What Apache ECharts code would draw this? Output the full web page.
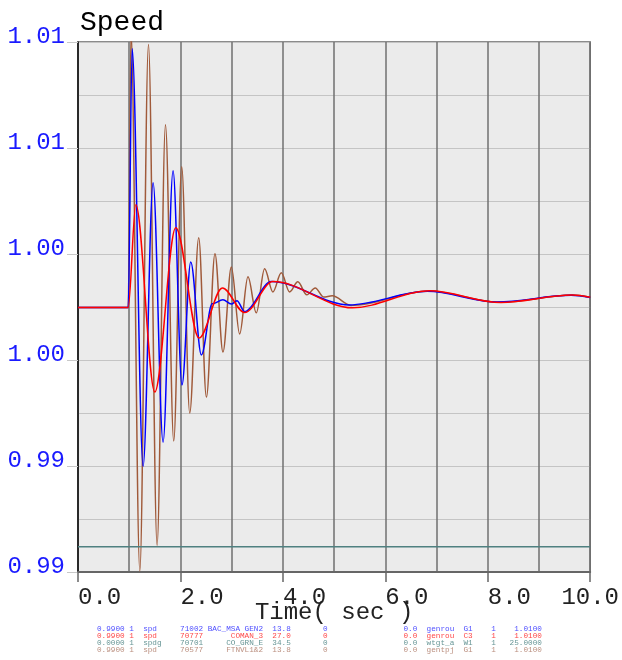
<!DOCTYPE html>
<html>
<head>
<meta charset="utf-8">
<script src="https://cdn.jsdelivr.net/npm/echarts@6/dist/echarts.min.js"></script>
<style>
  html, body { margin: 0; padding: 0; background: #ffffff; }
  #chart { width: 622px; height: 660px; }
</style>
</head>
<body>
<div id="chart"></div>
<script>
// Rotor speed (pu) after the disturbance, sampled at the turning points of each trace.
const timeTicks = [0, 2, 4, 6, 8, 10];

const speedGen2 = [
  [0, 0.99998], [0.98, 0.99998], [1.057, 1.00975], [1.271, 0.99399], [1.466, 1.00469],
  [1.661, 0.99490], [1.856, 1.00514], [2.03, 0.99706], [2.201, 1.00170], [2.409, 0.99819],
  [2.62, 1.00012], [2.83, 1.00027], [2.994, 1.00011], [3.103, 1.00024], [3.253, 0.99983],
  [3.774, 1.00096], [5.30, 1.00008], [6.82, 1.00059], [8.18, 1.00019], [9.63, 1.00044],
  [10, 1.00036]
];

const speedComan3 = [
  [0, 0.99998], [0.979, 0.99998], [1.129, 1.00386], [1.499, 0.99679], [1.908, 1.00299],
  [2.363, 0.99883], [2.819, 1.00072], [3.253, 0.99979], [3.805, 1.00096], [5.36, 0.99997],
  [6.86, 1.00061], [8.257, 1.00017], [9.653, 1.00045], [10, 1.00037]
];

const speedCoGrnE = [
  [0, 0.99095], [10, 0.99095]
];

const speedFtnvl = [
  [0, 0.99998], [0.98, 0.99998], [1.035, 1.0104], [1.207, 0.99004], [1.376, 1.00991],
  [1.544, 0.99101], [1.708, 1.00688], [1.869, 0.99494], [2.025, 1.00529], [2.181, 0.99600],
  [2.357, 1.00261], [2.507, 0.99660], [2.674, 1.00201], [2.830, 0.99830], [2.994, 1.00151],
  [3.156, 0.99898], [3.318, 1.00114], [3.481, 0.99978], [3.643, 1.00144], [3.805, 1.00057],
  [3.969, 1.00129], [4.131, 1.00057], [4.292, 1.00095], [4.468, 1.00046], [4.632, 1.00072],
  [4.793, 1.00038], [4.963, 1.00042], [5.33, 1.00006], [6.85, 1.00060], [8.24, 1.00018],
  [9.65, 1.00045], [10, 1.00037]
];

// Channel description rows printed under the plot
const channelLeft = [
  '0.9900 1  spd     71002 BAC_MSA GEN2  13.8       0',
  '0.9900 1  spd     70777      COMAN_3  27.0       0',
  '0.0000 1  spdg    70701     CO_GRN_E  34.5       0',
  '0.9900 1  spd     70577     FTNVL1&2  13.8       0'
];
const channelRight = [
  '0.0  genrou  G1    1    1.0100',
  '0.0  genrou  C3    1    1.0100',
  '0.0  wtgt_a  W1    1   25.0000',
  '0.0  gentpj  G1    1    1.0100'
];
const lineColors = ['#0000ff', '#ff0000', '#4f8080', '#a05a3a'];
const textColors = ['#5050ff', '#ff4848', '#679696', '#bb9080'];

const MONO = '"Liberation Mono", "DejaVu Sans Mono", monospace';

const chart = echarts.init(document.getElementById('chart'), null, { renderer: 'canvas' });

function trace(name, data, color, z) {
  return {
    name: name,
    type: 'line',
    data: data,
    showSymbol: false,
    symbol: 'none',
    smooth: 0.34,
    smoothMonotone: 'x',
    clip: true,
    z: z,
    lineStyle: { color: color, width: 1.5 },
    emphasis: { disabled: true }
  };
}

const legendRows = [];
channelLeft.forEach(function (txt, i) {
  legendRows.push({
    type: 'text', left: 97, top: 625 + i * 7,
    style: { text: txt, font: '7.7px ' + MONO, fill: textColors[i] }
  });
});
channelRight.forEach(function (txt, i) {
  legendRows.push({
    type: 'text', left: 403.5, top: 625 + i * 7,
    style: { text: txt, font: '7.7px ' + MONO, fill: textColors[i] }
  });
});

chart.setOption({
  animation: false,
  backgroundColor: '#ffffff',
  title: {
    text: 'Speed',
    left: 75,
    top: 4,
    textStyle: { fontFamily: MONO, fontSize: 28, fontWeight: 'normal', color: '#000000' }
  },
  grid: {
    left: 78, right: 30, top: 42, bottom: 88,
    show: true, backgroundColor: '#ebebeb', borderColor: '#666666', borderWidth: 1.5
  },
  xAxis: {
    type: 'value',
    min: 0, max: 10, interval: 2,
    name: 'Time( sec )',
    nameLocation: 'middle',
    nameGap: 29,
    nameMoveOverlap: false,
    nameTextStyle: { fontFamily: MONO, fontSize: 24, color: '#222222' },
    axisLine: { show: true, lineStyle: { color: '#666666', width: 2 } },
    axisTick: { show: true, length: 10, lineStyle: { color: '#666666', width: 1.5 } },
    minorTick: { show: false, splitNumber: 2 },
    splitLine: { show: true, lineStyle: { color: '#707070', width: 1.5 } },
    minorSplitLine: { show: true, lineStyle: { color: '#707070', width: 1.5 } },
    axisLabel: {
      fontFamily: MONO, fontSize: 24, color: '#222222',
      margin: 14, align: 'left', alignMaxLabel: 'center',
      showMinLabel: true, showMaxLabel: true,
      formatter: function (v) { return v.toFixed(1); }
    }
  },
  yAxis: {
    type: 'value',
    min: 0.99, max: 1.01, interval: 0.004,
    axisLine: { show: true, onZero: false, lineStyle: { color: '#111111', width: 1.5 } },
    axisTick: { show: true, length: 11, lineStyle: { color: '#c8c8c8', width: 1 } },
    minorTick: { show: false, splitNumber: 2 },
    splitLine: { show: true, lineStyle: { color: '#c4c4c4', width: 1 } },
    minorSplitLine: { show: true, lineStyle: { color: '#c4c4c4', width: 1 } },
    axisLabel: {
      fontFamily: MONO, fontSize: 24, color: '#1a1aff',
      margin: 13, verticalAlign: 'bottom', lineHeight: 11,
      showMinLabel: true, showMaxLabel: true,
      formatter: function (v) { return v.toFixed(2); }
    }
  },
  series: [
    trace('FTNVL1&2', speedFtnvl, lineColors[3], 2),
    trace('CO_GRN_E', speedCoGrnE, lineColors[2], 3),
    trace('BAC_MSA GEN2', speedGen2, lineColors[0], 4),
    trace('COMAN_3', speedComan3, lineColors[1], 5)
  ],
  graphic: legendRows
});
</script>
</body>
</html>
